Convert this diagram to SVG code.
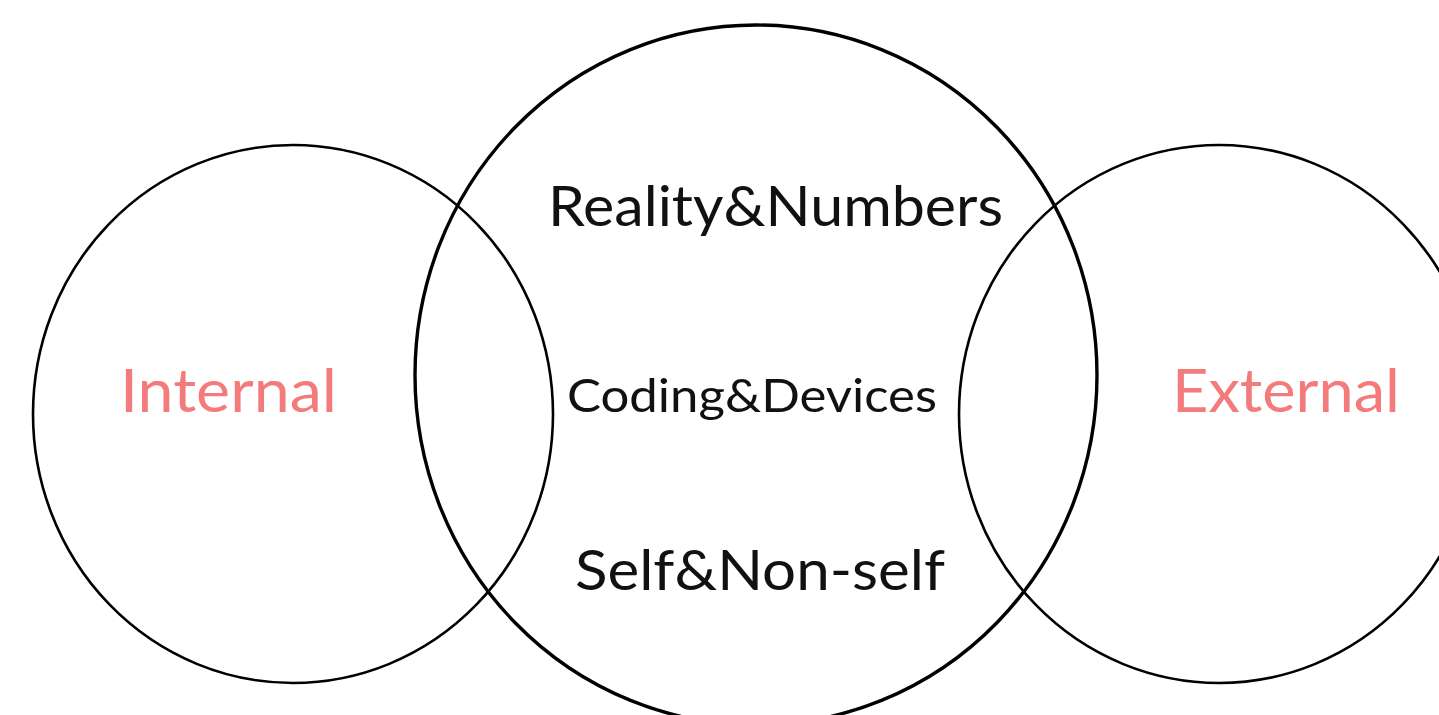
<svg xmlns="http://www.w3.org/2000/svg" width="1439" height="715" viewBox="0 0 1439 715">
  <style>
    .ring { fill: none; stroke: #000; }
    .side { stroke-width: 2.6; }
    .core { stroke-width: 3.4; }
    .lbl { font-family: Lato, "Noto Sans", sans-serif; text-anchor: middle; }
    .dark { fill: #111; }
    .pink { fill: #f47b7b; }
  </style>
  <rect width="1439" height="715" fill="#fff"/>
  <g id="internal">
    <ellipse class="ring side" cx="293" cy="414" rx="260" ry="269"/>
    <text class="lbl pink" x="228.5" y="412" font-size="60" textLength="217" lengthAdjust="spacingAndGlyphs">Internal</text>
  </g>
  <g id="external">
    <ellipse class="ring side" cx="1219" cy="414" rx="260" ry="269"/>
    <text class="lbl pink" x="1286" y="412" font-size="60" textLength="228" lengthAdjust="spacingAndGlyphs">External</text>
  </g>
  <g id="core">
    <ellipse class="ring core" cx="756" cy="375" rx="341" ry="350"/>
    <text class="lbl dark" x="775.5" y="226" font-size="57" textLength="455" lengthAdjust="spacingAndGlyphs">Reality&amp;Numbers</text>
    <text class="lbl dark" x="752" y="412" font-size="47" textLength="370" lengthAdjust="spacingAndGlyphs">Coding&amp;Devices</text>
    <text class="lbl dark" x="760" y="590" font-size="57" textLength="370" lengthAdjust="spacingAndGlyphs">Self&amp;Non-self</text>
  </g>
  <g id="connectors"/>
</svg>
